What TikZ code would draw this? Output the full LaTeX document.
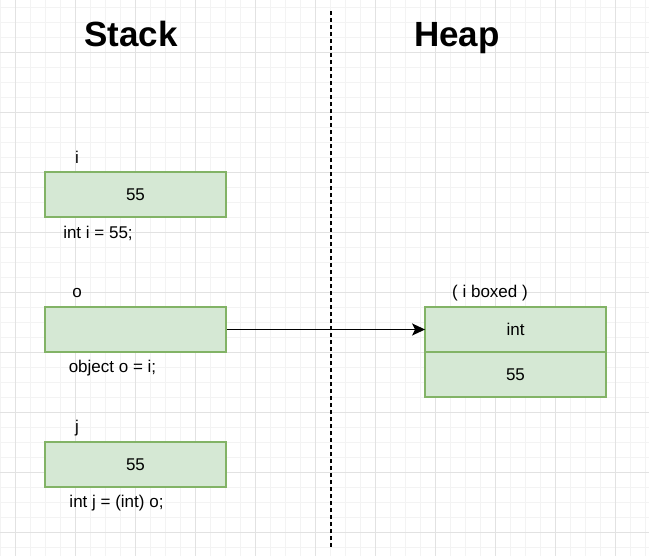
\documentclass[tikz,border=0pt]{standalone}
\usepackage{fontspec}
\setmainfont{Liberation Sans}
\usetikzlibrary{arrows.meta}
\definecolor{boxfill}{RGB}{213,232,212}
\definecolor{boxline}{RGB}{130,179,102}
\definecolor{gridmin}{RGB}{243,243,243}
\definecolor{gridmaj}{RGB}{226,226,226}

\tikzset{
  memcell/.style={draw=boxline, fill=boxfill, line width=1.8pt, minimum width=181pt, minimum height=45pt, inner sep=0pt},
  codetxt/.style={inner sep=0pt},
  heading/.style={font=\fontsize{35}{40}\selectfont\bfseries, anchor=base}
}

\begin{document}
\begin{tikzpicture}[x=1pt, y=-1pt, every node/.style={font=\fontsize{17}{20}\selectfont}]
\useasboundingbox (0,0) rectangle (649,556);
\fill[white] (0,0) rectangle (649,556);

% Grid
\foreach \x in {0,15,...,645} \draw[gridmin, line width=0.8pt] (\x,0) -- (\x,556);
\foreach \y in {7,22,...,552} \draw[gridmin, line width=0.8pt] (0,\y) -- (649,\y);
\foreach \x in {15,75,...,615} \draw[gridmaj, line width=0.8pt] (\x,0) -- (\x,556);
\foreach \y in {52,112,...,532} \draw[gridmaj, line width=0.8pt] (0,\y) -- (649,\y);

% Headings
\node[heading] (stack) at (131,47) {Stack};
\node[heading] (heap) at (457,47) {Heap};

% Divider
\coordinate (divtop) at (331,11);
\coordinate (divbot) at (331,548);
\draw[line width=2pt, dash pattern=on 4pt off 3pt] (divtop) -- (divbot);

% Stack
\node[codetxt] (ilbl) at (77,157) {i};
\node[memcell] (ibox) at (135.5,194.5) {55};
\node[codetxt] (icode) at (98,233) {int i = 55;};

\node[codetxt] (olbl) at (77,293) {o};
\node[memcell] (obox) at (135.5,329.5) {};
\node[codetxt] (ocode) at (112.5,368) {object o = i;};

\node[codetxt] (jlbl) at (77,428) {j};
\node[memcell] (jbox) at (135.5,464.5) {55};
\node[codetxt] (jcode) at (116.5,503) {int j = (int) o;};

% Heap
\node[codetxt] (boxlbl) at (490,293) {( i boxed )};
\node[memcell] (htype) at (515.5,329.5) {int};
\node[memcell] (hval) at (515.5,374.5) {55};

% Arrows
\draw[-{Stealth[length=13pt, width=12pt, inset=3pt]}, line width=1.8pt, shorten >=-1pt] (obox.east) -- (htype.west);
\end{tikzpicture}
\end{document}
